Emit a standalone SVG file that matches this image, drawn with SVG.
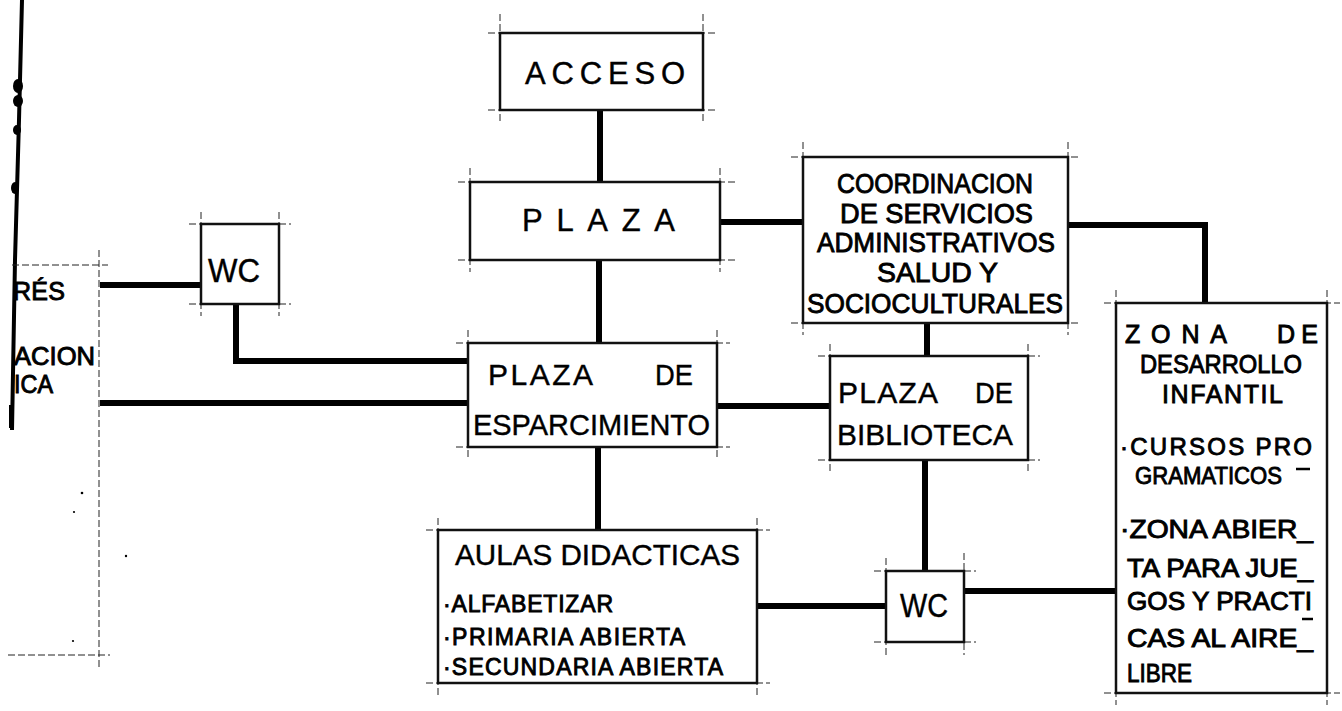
<svg xmlns="http://www.w3.org/2000/svg" width="1342" height="711" viewBox="0 0 1342 711">
<style>
.box{fill:#fff;stroke:#111;stroke-width:2.5}
.guide{fill:none;stroke:#222;stroke-width:1;stroke-dasharray:7 3}
.conn{fill:none;stroke:#000;stroke-width:6;stroke-linecap:butt;stroke-linejoin:miter}
.t{font-family:"Liberation Sans",Arial,sans-serif;fill:#000;stroke:#000;stroke-width:0.4}
.b{stroke-width:0.9}
</style>
<rect width="1342" height="711" fill="#fff"/>

<g id="connectors">
  <path class="conn" d="M600 110 V182"/>
  <path class="conn" d="M599 260 V343"/>
  <path class="conn" d="M720 222 H803"/>
  <path class="conn" d="M1068 225 H1205 V303"/>
  <path class="conn" d="M927 323 V356"/>
  <path class="conn" d="M100 285 H201"/>
  <path class="conn" d="M236 304 V361 H468"/>
  <path class="conn" d="M100 403 H468"/>
  <path class="conn" d="M717 406 H830"/>
  <path class="conn" d="M598 447 V530"/>
  <path class="conn" d="M925 460 V571"/>
  <path class="conn" d="M757 606 H886"/>
  <path class="conn" d="M964 591 H1116"/>
</g>

<g id="left-partial">
  <path d="M22 0 L19 120 L15 260 L12 430" fill="none" stroke="#000" stroke-width="4"/>
  <ellipse cx="18" cy="86" rx="5" ry="7" fill="#000"/>
  <ellipse cx="18" cy="101" rx="5" ry="6" fill="#000"/>
  <ellipse cx="17" cy="130" rx="4" ry="5" fill="#000"/>
  <ellipse cx="15" cy="188" rx="4" ry="6" fill="#000"/>
  <path d="M10 405 V428" stroke="#000" stroke-width="2"/>
  <path class="guide" d="M12 265 H108 M99 250 V670 M8 655 H110"/>
  <circle cx="82" cy="493" r="1.3" fill="#000"/>
  <circle cx="74" cy="512" r="1.1" fill="#000"/>
  <circle cx="126" cy="556" r="1.2" fill="#000"/>
  <circle cx="73" cy="641" r="1.1" fill="#000"/>
  <text class="t b" x="13" y="300" font-size="25" textLength="52" lengthAdjust="spacing">RÉS</text>
  <text class="t b" x="14" y="365" font-size="25" textLength="81" lengthAdjust="spacingAndGlyphs">ACION</text>
  <text class="t b" x="14" y="393" font-size="25" textLength="39" lengthAdjust="spacingAndGlyphs">ICA</text>
</g>

<g id="acceso">
  <path class="guide" d="M488 33 H715 M488 110 H715 M500 14 V122 M703 14 V122"/>
  <rect class="box" x="500" y="33" width="203" height="77"/>
  <text class="t" x="525" y="84" font-size="31" textLength="160" lengthAdjust="spacing">ACCESO</text>
</g>

<g id="plaza">
  <path class="guide" d="M458 182 H735 M458 260 H735 M470 168 V272 M720 168 V272"/>
  <rect class="box" x="470" y="182" width="250" height="78"/>
  <text class="t" x="522" y="231" font-size="31" textLength="153" lengthAdjust="spacing">PLAZA</text>
</g>

<g id="wc-top">
  <path class="guide" d="M189 224 H291 M189 304 H291 M201 212 V316 M279 212 V316"/>
  <rect class="box" x="201" y="224" width="78" height="80"/>
  <text class="t" x="208" y="282" font-size="34" textLength="52" lengthAdjust="spacingAndGlyphs">WC</text>
</g>

<g id="coordinacion">
  <path class="guide" d="M791 157 H1080 M791 323 H1080 M803 142 V335 M1068 142 V335"/>
  <rect class="box" x="803" y="157" width="265" height="166"/>
  <text class="t b" x="837" y="193" font-size="28" textLength="196" lengthAdjust="spacingAndGlyphs">COORDINACION</text>
  <text class="t b" x="840" y="223" font-size="28" textLength="193" lengthAdjust="spacingAndGlyphs">DE SERVICIOS</text>
  <text class="t b" x="817" y="252" font-size="28" textLength="238" lengthAdjust="spacingAndGlyphs">ADMINISTRATIVOS</text>
  <text class="t b" x="877" y="282" font-size="28" textLength="121" lengthAdjust="spacingAndGlyphs">SALUD Y</text>
  <text class="t b" x="807" y="313" font-size="28" textLength="256" lengthAdjust="spacingAndGlyphs">SOCIOCULTURALES</text>
</g>

<g id="plaza-esparcimiento">
  <path class="guide" d="M456 343 H730 M456 447 H730 M468 330 V460 M717 330 V460"/>
  <rect class="box" x="468" y="343" width="249" height="104"/>
  <text class="t" x="488" y="385" font-size="30" textLength="105" lengthAdjust="spacing">PLAZA</text>
  <text class="t" x="655" y="385" font-size="30" textLength="38" lengthAdjust="spacingAndGlyphs">DE</text>
  <text class="t" x="473" y="435" font-size="30" textLength="237" lengthAdjust="spacingAndGlyphs">ESPARCIMIENTO</text>
</g>

<g id="plaza-biblioteca">
  <path class="guide" d="M818 356 H1040 M818 460 H1040 M830 344 V472 M1028 344 V472"/>
  <rect class="box" x="830" y="356" width="198" height="104"/>
  <text class="t" x="838" y="403" font-size="30" textLength="100" lengthAdjust="spacing">PLAZA</text>
  <text class="t" x="975" y="403" font-size="30" textLength="38" lengthAdjust="spacingAndGlyphs">DE</text>
  <text class="t" x="837" y="445" font-size="30" textLength="176" lengthAdjust="spacingAndGlyphs">BIBLIOTECA</text>
</g>

<g id="zona-desarrollo">
  <path class="guide" d="M1104 303 H1340 M1104 693 H1340 M1116 290 V705 M1327 290 V705"/>
  <rect class="box" x="1116" y="303" width="211" height="390"/>
  <text class="t b" x="1125" y="343" font-size="25" textLength="102" lengthAdjust="spacing">ZONA</text>
  <text class="t b" x="1277" y="343" font-size="25" textLength="41" lengthAdjust="spacing">DE</text>
  <text class="t b" x="1140" y="373" font-size="25" textLength="162" lengthAdjust="spacingAndGlyphs">DESARROLLO</text>
  <text class="t b" x="1162" y="403" font-size="25" textLength="121" lengthAdjust="spacing">INFANTIL</text>
  <text class="t b" x="1120" y="455" font-size="24" textLength="192" lengthAdjust="spacing">·CURSOS PRO</text>
  <path d="M1296 469 H1310" stroke="#000" stroke-width="2.5"/>
  <text class="t b" x="1135" y="484" font-size="24" textLength="147" lengthAdjust="spacingAndGlyphs">GRAMATICOS</text>
  <text class="t b" x="1120" y="538" font-size="25" textLength="193" lengthAdjust="spacingAndGlyphs">·ZONA ABIER_</text>
  <text class="t b" x="1127" y="577" font-size="25" textLength="186" lengthAdjust="spacingAndGlyphs">TA PARA JUE_</text>
  <text class="t b" x="1127" y="610" font-size="25" textLength="185" lengthAdjust="spacingAndGlyphs">GOS Y PRACTI</text>
  <path d="M1302 619 H1313" stroke="#000" stroke-width="2.5"/>
  <text class="t b" x="1127" y="647" font-size="25" textLength="186" lengthAdjust="spacingAndGlyphs">CAS AL AIRE_</text>
  <text class="t b" x="1127" y="682" font-size="25" textLength="65" lengthAdjust="spacingAndGlyphs">LIBRE</text>
</g>

<g id="aulas-didacticas">
  <path class="guide" d="M426 530 H770 M426 683 H770 M438 518 V696 M757 518 V696"/>
  <rect class="box" x="438" y="530" width="319" height="153"/>
  <text class="t" x="455" y="565" font-size="30" textLength="285" lengthAdjust="spacingAndGlyphs">AULAS DIDACTICAS</text>
  <text class="t b" x="443" y="612" font-size="23" textLength="170" lengthAdjust="spacing">·ALFABETIZAR</text>
  <text class="t b" x="443" y="645" font-size="23" textLength="242" lengthAdjust="spacing">·PRIMARIA ABIERTA</text>
  <text class="t b" x="443" y="675" font-size="23" textLength="280" lengthAdjust="spacing">·SECUNDARIA ABIERTA</text>
</g>

<g id="wc-bottom">
  <path class="guide" d="M874 571 H976 M874 642 H976 M886 558 V655 M964 553 V655"/>
  <rect class="box" x="886" y="571" width="78" height="71"/>
  <text class="t" x="900" y="617" font-size="33" textLength="48" lengthAdjust="spacingAndGlyphs">WC</text>
</g>
</svg>
